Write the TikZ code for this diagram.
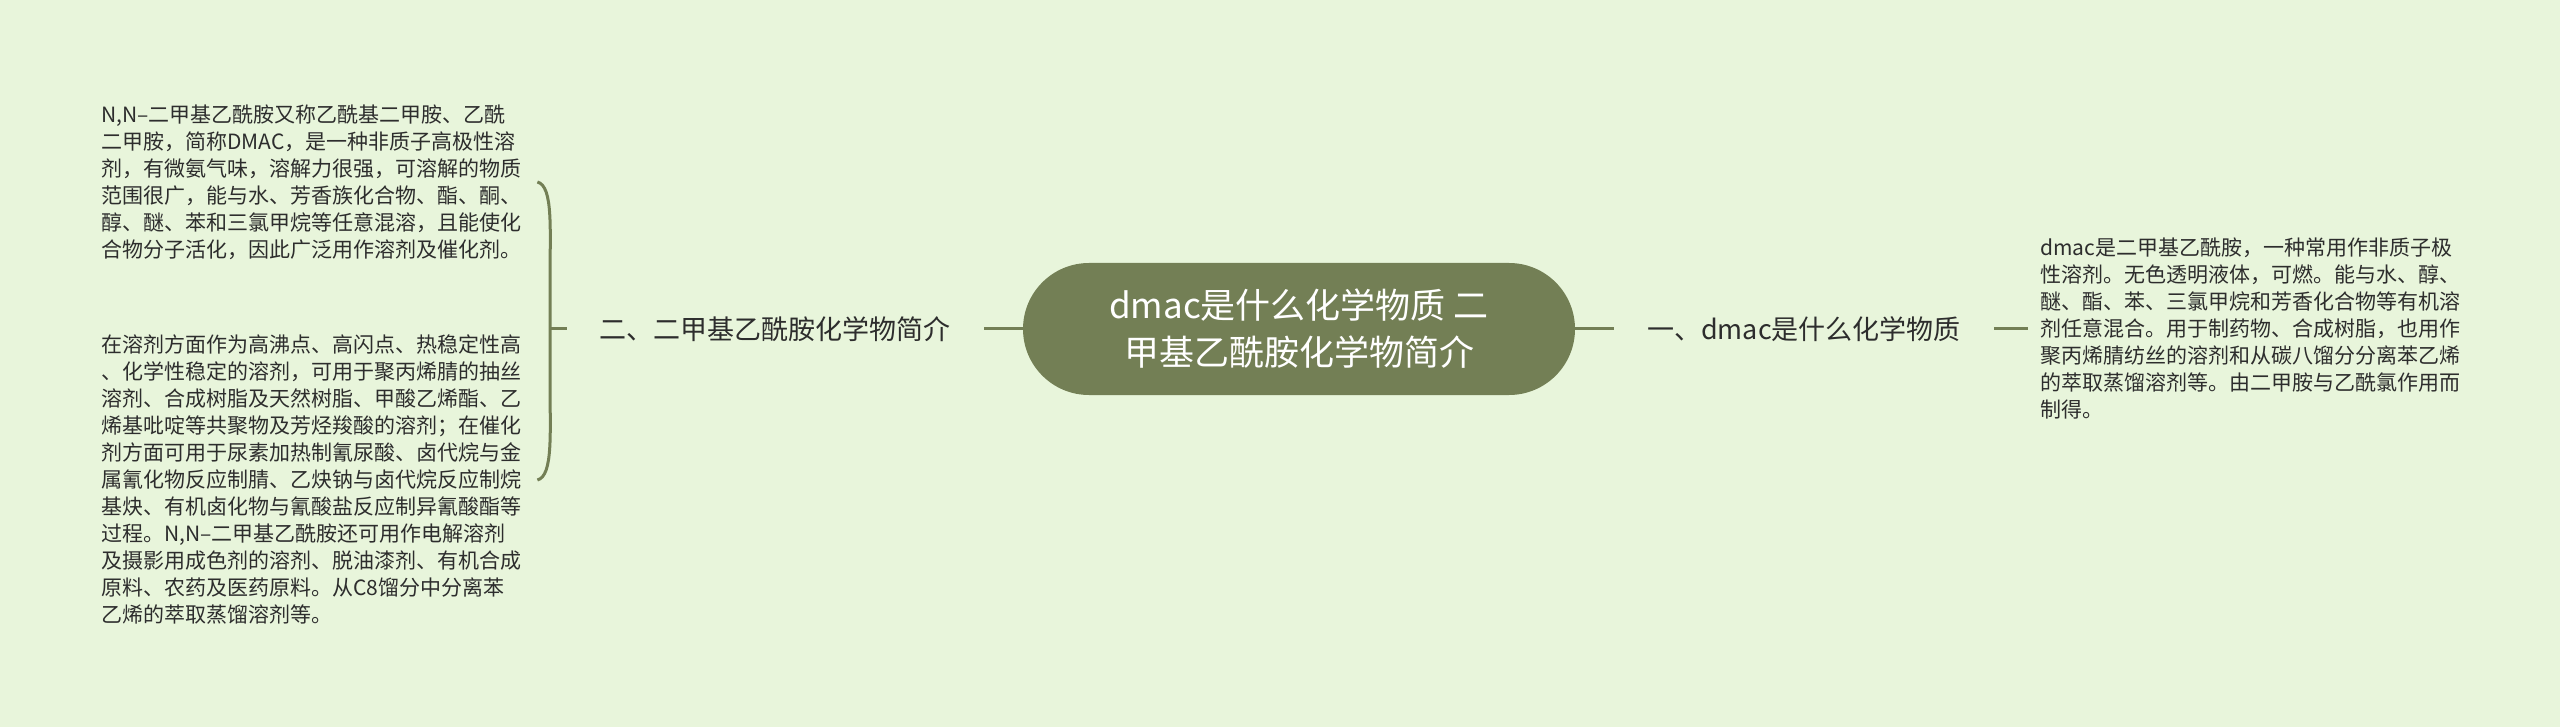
\documentclass[tikz,border=0pt]{standalone}
\usepackage{fontspec}
\setmainfont{Noto Sans CJK SC}
\usepackage{tikz}
\usetikzlibrary{shapes,positioning}
\definecolor{mapbg}{RGB}{232,245,219}
\definecolor{mapgreen}{RGB}{115,127,85}
\definecolor{mapink}{RGB}{45,45,45}
\tikzstyle{line} = [draw=mapgreen, line width=3pt]
\tikzstyle{topic} = [rectangle, rounded corners=66pt, fill=mapgreen, text=white, minimum width=552pt, minimum height=132pt, align=center, font=\fontsize{35}{47}\selectfont]
\tikzstyle{branch} = [inner xsep=33pt, text=mapink, font=\fontsize{27}{32}\selectfont]
\tikzstyle{leaf} = [inner xsep=12pt, text=mapink, align=left, text width=424pt, font=\fontsize{21}{27}\selectfont]

\begin{document}
\begin{tikzpicture}[x=1pt, y=-1pt]
        \fill [mapbg] (0,0) rectangle (2560,727);
        \node (root) [topic] at (1299,329) {dmac是什么化学物质 二\\甲基乙酰胺化学物简介};

        % right side
        \node (one) [branch, anchor=west] at (1614,329) {一、dmac是什么化学物质};
        \node (oneText) [leaf, anchor=west] at (2028,329) {dmac是二甲基乙酰胺，一种常用作非质子极\\
        性溶剂。无色透明液体，可燃。能与水、醇、\\
        醚、酯、苯、三氯甲烷和芳香化合物等有机溶\\
        剂任意混合。用于制药物、合成树脂，也用作\\
        聚丙烯腈纺丝的溶剂和从碳八馏分分离苯乙烯\\
        的萃取蒸馏溶剂等。由二甲胺与乙酰氯作用而\\
        制得。};

        % left side
        \node (two) [branch, anchor=east] at (984,329) {二、二甲基乙酰胺化学物简介};
        \node (twoA) [leaf, anchor=west] at (89,182) {N,N–二甲基乙酰胺又称乙酰基二甲胺、乙酰\\
        二甲胺，简称DMAC，是一种非质子高极性溶\\
        剂，有微氨气味，溶解力很强，可溶解的物质\\
        范围很广，能与水、芳香族化合物、酯、酮、\\
        醇、醚、苯和三氯甲烷等任意混溶，且能使化\\
        合物分子活化，因此广泛用作溶剂及催化剂。};
        \node (twoB) [leaf, anchor=west] at (89,480) {在溶剂方面作为高沸点、高闪点、热稳定性高\\
        、化学性稳定的溶剂，可用于聚丙烯腈的抽丝\\
        溶剂、合成树脂及天然树脂、甲酸乙烯酯、乙\\
        烯基吡啶等共聚物及芳烃羧酸的溶剂；在催化\\
        剂方面可用于尿素加热制氰尿酸、卤代烷与金\\
        属氰化物反应制腈、乙炔钠与卤代烷反应制烷\\
        基炔、有机卤化物与氰酸盐反应制异氰酸酯等\\
        过程。N,N–二甲基乙酰胺还可用作电解溶剂\\
        及摄影用成色剂的溶剂、脱油漆剂、有机合成\\
        原料、农药及医药原料。从C8馏分中分离苯\\
        乙烯的萃取蒸馏溶剂等。};
        \coordinate (stem) at (550,329);

        \path [line] (root) -- (one);
        \path [line] (one) -- (oneText);
        \path [line] (two) -- (root);
        \path [line] (stem) -- (two);
        \path [line] (twoA.east) .. controls +(16,4) and +(0,-50) .. ([yshift=-98pt]stem |- twoA.east)
            -- ([yshift=98pt]stem |- twoB.east) .. controls +(0,50) and +(16,-4) .. (twoB.east);
\end{tikzpicture}
\end{document}
